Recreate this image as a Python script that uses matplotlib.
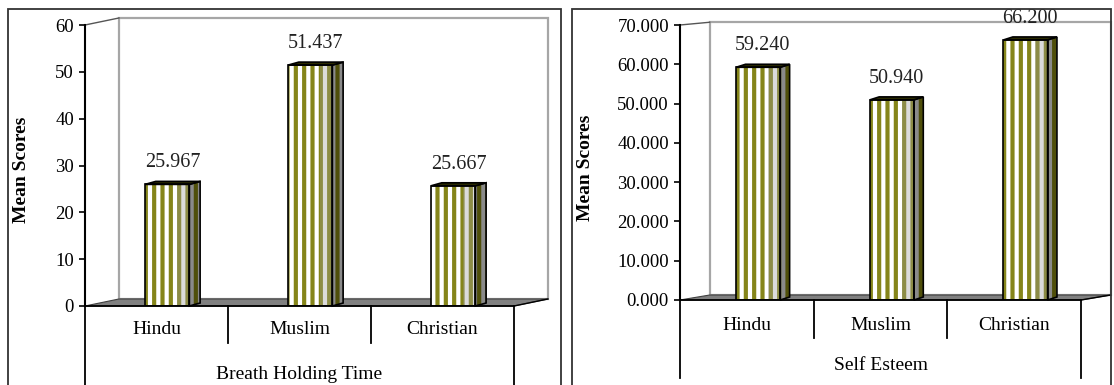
import matplotlib
matplotlib.use("Agg")
import matplotlib.pyplot as plt
from matplotlib.patches import Polygon, Rectangle
import numpy as np

# ── dati ───────────────────────────────────────────────────────
gruppi        = ["Hindu", "Muslim", "Christian"]
breath_hold   = [25.967, 51.437, 25.667]
self_esteem   = [59.240, 50.940, 66.200]

plt.rcParams['font.family'] = ['Liberation Serif', 'DejaVu Serif']
plt.rcParams['hatch.linewidth'] = 3.0

OLIVA      = '#85851a'
OLIVA_SCURO = '#4f4f0a'
GRIGIO_LATO = '#8a8a8a'
PAVIMENTO  = '#808080'
PARETE     = '#a6a6a6'

W, H = 1114, 385
fig = plt.figure(figsize=(W / 100, H / 100), dpi=100)


def box(x0, y_top, x1, y_bot):
    # rettangolo in pixel (origine in alto a sinistra) -> frazioni figura
    return [x0 / W, 1 - y_bot / H, (x1 - x0) / W, (y_bot - y_top) / H]


def pannello(ax, valori, ymax, fmt, titolo_x, g):
    n = len(valori)
    ax.set_xlim(-0.5, n - 0.5)
    ax.set_ylim(0, ymax)
    x = np.arange(n)

    # parete di fondo + pavimento (finto 3D)
    wl, wr = -0.5 + g['wdx'], n - 0.5 + g['wdx']
    ax.add_patch(Rectangle((wl, g['wbot']), wr - wl, g['wtop'] - g['wbot'],
                           facecolor='white', edgecolor=PARETE, lw=1.6,
                           clip_on=False, zorder=0.5))
    ax.add_patch(Polygon([(-0.5, 0), (n - 0.5, 0), (wr, g['wbot']), (wl, g['wbot'])],
                         closed=True, facecolor=PAVIMENTO, edgecolor='#404040',
                         lw=0.8, clip_on=False, zorder=0.6))
    ax.plot([-0.5, wl], [ymax, g['wtop']], color='#555555', lw=1.0,
            clip_on=False, zorder=0.7)
    ax.plot([n - 0.5, wr], [0, g['wbot']], color='black', lw=1.0,
            clip_on=False, zorder=3)

    # barre a righe con faccia laterale e superiore
    xc = x + g['off']
    w = g['bw']
    dx, dy = g['bdx'], g['bdy']
    ax.bar(xc, valori, width=w, facecolor='white', edgecolor=OLIVA,
           hatch='||', lw=0, zorder=2)
    ax.bar(xc + w * 0.36, valori, width=w * 0.28, facecolor='#9a9a9a',
           alpha=0.35, lw=0, zorder=2.1)
    for xi, v in zip(xc, valori):
        xr, xl = xi + w / 2, xi - w / 2
        lato = [(xr, 0), (xr + dx, dy), (xr + dx, v + dy), (xr, v)]
        ax.add_patch(Polygon(lato, closed=True, facecolor=GRIGIO_LATO,
                             edgecolor=OLIVA_SCURO, hatch='||', lw=0,
                             clip_on=False, zorder=2))
        ax.add_patch(Polygon(lato, closed=True, facecolor='none',
                             edgecolor='black', lw=1.2, clip_on=False, zorder=2.3))
        cima = [(xl, v), (xl + dx, v + dy), (xr + dx, v + dy), (xr, v)]
        ax.add_patch(Polygon(cima, closed=True, facecolor='#2a2a00',
                             edgecolor='black', lw=1.2, clip_on=False, zorder=2.3))
        ax.annotate(fmt.format(v), (xi + dx / 2, v), xytext=(0, 15.5),
                    textcoords='offset points', ha='center', va='center',
                    fontsize=14.5, color='#222222')
    ax.bar(xc, valori, width=w, facecolor='none', edgecolor='black',
           lw=1.2, zorder=2.4)

    # assi
    for s in ('top', 'right'):
        ax.spines[s].set_visible(False)
    ax.spines['left'].set_linewidth(1.5)
    ax.spines['bottom'].set_linewidth(1.3)
    ax.spines['left'].set_zorder(3)
    ax.spines['bottom'].set_zorder(3)
    ax.set_yticks(np.arange(0, ymax + 1, 10))
    ax.set_yticklabels([g['yfmt'].format(t) for t in np.arange(0, ymax + 1, 10)])
    ax.tick_params(axis='y', length=4, width=1.2, pad=4, labelsize=13.5)
    ax.set_xticks(x)
    ax.set_xticklabels(gruppi)
    ax.tick_params(axis='x', length=0, pad=g['xpad'], labelsize=14)
    for lab in ax.get_xticklabels():
        lab.set_va('center')

    # separatori di categoria sotto l'asse
    tr = ax.get_xaxis_transform()
    for k in range(n + 1):
        basso = g['sep_out'] if k in (0, n) else g['sep_in']
        ax.plot([k - 0.5, k - 0.5], [0, basso], transform=tr, color='black',
                lw=1.3, clip_on=False, zorder=3)

    ax.text(0.5, g['tit_y'], titolo_x, transform=ax.transAxes, ha='center',
            va='center', fontsize=14)
    ax.set_ylabel('Mean Scores', fontsize=14, fontweight='bold')
    ax.yaxis.set_label_coords(g['ylab_x'], g['ylab_y'])
    ax.set_facecolor('none')


# ── pannello sinistro ──────────────────────────────────────────
fig.patches.append(Rectangle((8 / W, -0.1), (561 - 8) / W, 1.1 - 9 / H,
                             transform=fig.transFigure, fill=False,
                             edgecolor='#333333', lw=1.3))
ax1 = fig.add_axes(box(85, 25, 514, 306))
pannello(ax1, breath_hold, 60, '{:.3f}', 'Breath Holding Time',
         dict(wdx=0.238, wbot=1.5, wtop=61.5, off=0.075, bw=0.31,
              bdx=0.075, bdy=0.64, yfmt='{:.0f}', xpad=17,
              sep_out=-0.3, sep_in=-0.132, tit_y=-0.245,
              ylab_x=-0.128, ylab_y=0.484))

# ── pannello destro ────────────────────────────────────────────
fig.patches.append(Rectangle((572 / W, -0.1), (1111 - 572) / W, 1.1 - 9 / H,
                             transform=fig.transFigure, fill=False,
                             edgecolor='#333333', lw=1.3))
ax2 = fig.add_axes(box(680, 25, 1081, 300))
pannello(ax2, self_esteem, 70, '{:.3f}', 'Self Esteem',
         dict(wdx=0.222, wbot=1.27, wtop=70.7, off=0.085, bw=0.33,
              bdx=0.07, bdy=0.76, yfmt='{:.3f}', xpad=18,
              sep_out=-0.284, sep_in=-0.138, tit_y=-0.24,
              ylab_x=-0.215, ylab_y=0.48))

fig.savefig("out.png", dpi=100)
